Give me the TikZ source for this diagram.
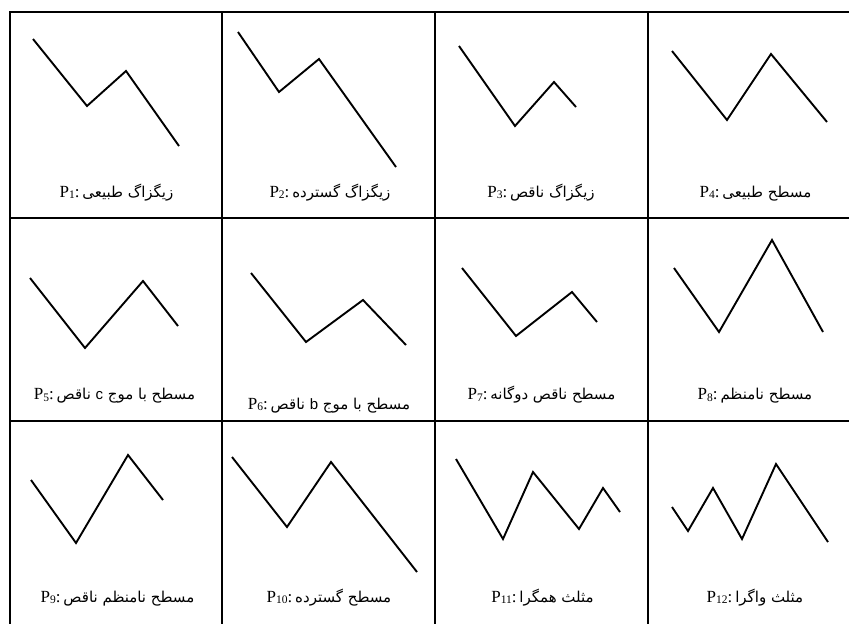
\documentclass[tikz,border=0pt]{standalone}
\usepackage{fontspec}
\setmainfont{Liberation Serif}
\newfontfamily\fa[Script=Arabic]{DejaVu Sans}
\newfontfamily\lsans{Liberation Sans}
\TeXXeTstate=1
\newcommand{\plab}[2]{\fontsize{17}{19}\selectfont P\raisebox{-0.25ex}{\fontsize{11.5}{12}\selectfont #1}:\,{\fa\fontsize{15}{17}\selectfont #2}}
\tikzset{
  grid/.style={line width=2.2pt, black},
  wave/.style={line width=1.9pt, black, line join=miter},
  lab/.style={anchor=base, inner sep=0pt}
}
\begin{document}
\begin{tikzpicture}[x=1pt, y=-1pt]
\useasboundingbox (0,0) rectangle (849,624);
% grid
\draw[grid] (849,12) -- (10,12) -- (10,624);
\draw[grid] (10,218) -- (849,218);
\draw[grid] (10,421) -- (849,421);
\draw[grid] (222,12) -- (222,624);
\draw[grid] (435,12) -- (435,624);
\draw[grid] (648,12) -- (648,624);
% row 1
\draw[wave] (33,39) -- (87,106) -- (126,71) -- (179,146);
\draw[wave] (238,32) -- (279,92) -- (319,59) -- (396,167);
\draw[wave] (459,46) -- (515,126) -- (554,82) -- (576,107);
\draw[wave] (672,51) -- (727,120) -- (771,54) -- (827,122);
\node[lab] (l1) at (116.5,197) {\plab{1}{\beginR زیگزاگ طبیعی\endR}};
\node[lab] (l2) at (330,197) {\plab{2}{\beginR زیگزاگ گسترده\endR}};
\node[lab] (l3) at (541,197) {\plab{3}{\beginR زیگزاگ ناقص\endR}};
\node[lab] (l4) at (755.5,197) {\plab{4}{\beginR مسطح طبیعی\endR}};
% row 2
\draw[wave] (30,278) -- (85,348) -- (143,281) -- (178,326);
\draw[wave] (251,273) -- (306,342) -- (363,300) -- (406,345);
\draw[wave] (462,268) -- (516,336) -- (572,292) -- (597,322);
\draw[wave] (674,268) -- (719,332) -- (772,240) -- (823,332);
\node[lab] (l5) at (114.5,399.5) {\plab{5}{\beginR مسطح با موج \beginL{\lsans c}\endL{} ناقص\endR}};
\node[lab] (l6) at (329,409) {\plab{6}{\beginR مسطح با موج \beginL{\lsans b}\endL{} ناقص\endR}};
\node[lab] (l7) at (541.5,399.5) {\plab{7}{\beginR مسطح ناقص دوگانه\endR}};
\node[lab] (l8) at (755,399.5) {\plab{8}{\beginR مسطح نامنظم\endR}};
% row 3
\draw[wave] (31,480) -- (76,543) -- (128,455) -- (163,500);
\draw[wave] (232,457) -- (287,527) -- (331,462) -- (417,572);
\draw[wave] (456,459) -- (503,539) -- (533,472) -- (579,529) -- (603,488) -- (620,512);
\draw[wave] (672,507) -- (688,531) -- (713,488) -- (742,539) -- (776,464) -- (828,542);
\node[lab] (l9) at (117.5,602) {\plab{9}{\beginR مسطح نامنظم ناقص\endR}};
\node[lab] (l10) at (329,602) {\plab{10}{\beginR مسطح گسترده\endR}};
\node[lab] (l11) at (542.5,602) {\plab{11}{\beginR مثلث همگرا\endR}};
\node[lab] (l12) at (755,602) {\plab{12}{\beginR مثلث واگرا\endR}};
\end{tikzpicture}
\end{document}
